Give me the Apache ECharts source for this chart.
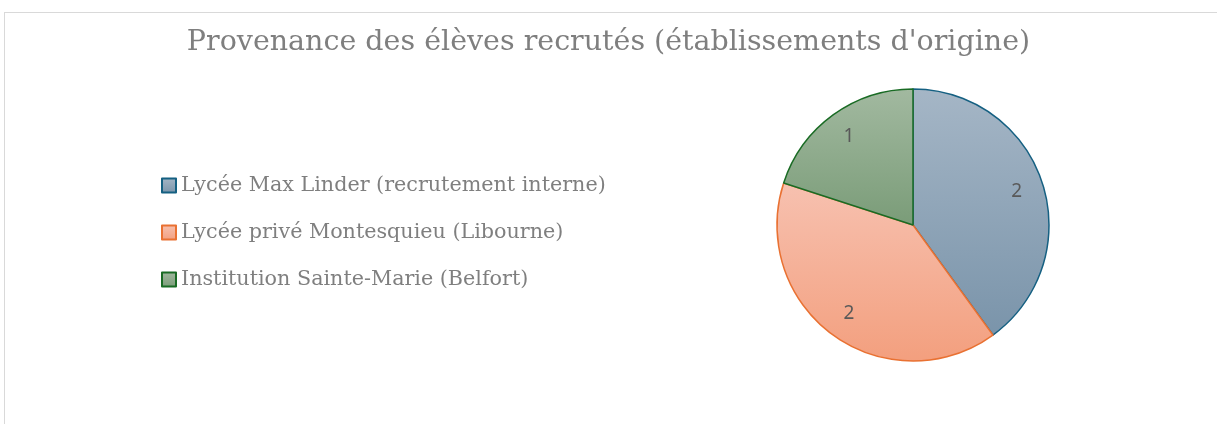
<!DOCTYPE html>
<html>
<head>
<meta charset="utf-8">
<script src="https://cdn.jsdelivr.net/npm/echarts@6/dist/echarts.min.js"></script>
<style>
  html, body { margin: 0; padding: 0; background: #fff; overflow: hidden; }
  #chart { width: 1217px; height: 424px; }
  /* cadre gris du graphique */
  .frame {
    position: absolute; left: 4px; top: 12px; width: 1400px; height: 600px;
    border: 1px solid #d9d9d9; pointer-events: none; box-sizing: border-box;
  }
</style>
</head>
<body>
<div id="chart"></div>
<div class="frame"></div>
<script>
// données
const titre = "Provenance des élèves recrutés (établissements d'origine)"
const etablissements = [
  'Lycée Max Linder (recrutement interne)',
  'Lycée privé Montesquieu (Libourne)',
  'Institution Sainte-Marie (Belfort)'
]
const effectifs = [2, 2, 1]

// couleurs : bordure, haut du dégradé, bas du dégradé
const bordures = ['#156082', '#e97132', '#196b24']
const hauts = ['#a5b6c6', '#f7c1b0', '#a2b9a0']
const bas = ['#7a94aa', '#f39f7e', '#7a9c78']

const degrade = (i) => new echarts.graphic.LinearGradient(0, 0, 0, 1, [
  { offset: 0, color: hauts[i] },
  { offset: 1, color: bas[i] }
])

const chart = echarts.init(document.getElementById('chart'))

const option = {
  animation: false,
  title: {
    text: titre,
    left: 'center',
    top: 23,
    textStyle: {
      fontFamily: 'DejaVu Serif',
      fontWeight: 'normal',
      fontSize: 28.5,
      color: '#7f7f7f'
    }
  },
  legend: {
    orient: 'vertical',
    left: 156,
    top: 170,
    icon: 'rect',
    itemWidth: 14,
    itemHeight: 14,
    itemGap: 26,
    data: etablissements,
    textStyle: {
      fontFamily: 'DejaVu Serif',
      fontSize: 20.7,
      color: '#7f7f7f',
      lineHeight: 20
    }
  },
  series: [
    {
      name: 'Provenance',
      type: 'pie',
      center: [913, 225],
      radius: [0, 136],
      startAngle: 90,
      clockwise: true,
      label: { show: false },
      labelLine: { show: false },
      data: etablissements.map((nom, i) => ({
        name: nom,
        value: effectifs[i],
        itemStyle: {
          color: degrade(i),
          borderColor: bordures[i],
          borderWidth: 1.5
        }
      }))
    },
    {
      // série transparente pour placer les étiquettes de valeur
      name: 'Etiquettes',
      type: 'pie',
      center: [913, 225],
      radius: [76, 136],
      startAngle: 90,
      clockwise: true,
      silent: true,
      label: {
        show: true,
        position: 'inside',
        formatter: '{c}',
        fontFamily: 'Noto Sans',
        fontSize: 19,
        color: '#595959'
      },
      labelLine: { show: false },
      itemStyle: { color: 'rgba(0,0,0,0)', borderWidth: 0 },
      data: etablissements.map((nom, i) => ({ name: nom, value: effectifs[i] }))
    }
  ]
}

chart.setOption(option)
</script>
</body>
</html>
